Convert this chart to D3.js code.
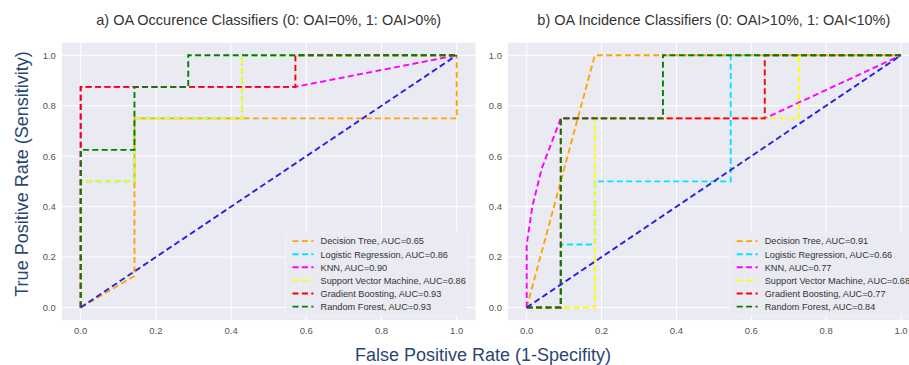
<!DOCTYPE html>
<html>
<head>
<meta charset="utf-8">
<script src="https://cdnjs.cloudflare.com/ajax/libs/d3/7.8.5/d3.min.js"></script>
<style>
  html, body { margin: 0; padding: 0; background: #fff; }
  svg { display: block; }
</style>
</head>
<body>
<svg id="chart" width="909" height="365"></svg>
<script>
const fontFamily = "'Liberation Sans', Arial, Helvetica, sans-serif";
const width = 909, height = 365;
const svg = d3.select("#chart");

// Model names, colours, AUC labels
const models = ["Decision Tree", "Logistic Regression", "KNN", "Support Vector Machine", "Gradient Boosting", "Random Forest"];
const modelColors = ["#ffa500", "#00e5ff", "#ff00ff", "#ffff00", "#ff0000", "#008000"];
const aucOccurrence = ["0.65", "0.86", "0.90", "0.86", "0.93", "0.93"];
const aucIncidence = ["0.91", "0.66", "0.77", "0.68", "0.77", "0.84"];
const ticks = [0, 0.2, 0.4, 0.6, 0.8, 1.0];
const chanceLine = [[0, 0], [1, 1]];

// a) OA occurrence ROC curves, [fpr, tpr]
const occDT  = [[0, 0], [0.143, 0.125], [0.143, 0.75], [1, 0.75], [1, 1]];
const occLR  = [[0, 0], [0, 0.5], [0.143, 0.5], [0.143, 0.75], [0.429, 0.75], [0.429, 1], [1, 1]];
const occKNN = [[0, 0], [0, 0.875], [0.571, 0.875], [1, 1]];
const occSVM = [[0, 0], [0, 0.5], [0.143, 0.5], [0.143, 0.75], [0.429, 0.75], [0.429, 1], [1, 1]];
const occGB  = [[0, 0], [0, 0.875], [0.571, 0.875], [0.571, 1], [1, 1]];
const occRF  = [[0, 0], [0, 0.625], [0.143, 0.625], [0.143, 0.875], [0.286, 0.875], [0.286, 1], [1, 1]];

// b) OA incidence ROC curves, [fpr, tpr]
const incDT  = [[0, 0], [0.182, 1], [1, 1]];
const incLR  = [[0, 0], [0.091, 0], [0.091, 0.25], [0.182, 0.25], [0.182, 0.5], [0.545, 0.5], [0.545, 1], [1, 1]];
const incKNN = [[0, 0], [0, 0.25], [0.015, 0.4], [0.04, 0.55], [0.091, 0.75], [0.636, 0.75], [1, 1]];
const incSVM = [[0, 0], [0.182, 0], [0.182, 0.75], [0.727, 0.75], [0.727, 1], [1, 1]];
const incGB  = [[0, 0], [0.091, 0], [0.091, 0.75], [0.636, 0.75], [0.636, 1], [1, 1]];
const incRF  = [[0, 0], [0.091, 0], [0.091, 0.75], [0.364, 0.75], [0.364, 1], [1, 1]];

const panels = [
  {
    title: "a) OA Occurence Classifiers (0: OAI=0%, 1: OAI>0%)",
    x0: 80.7, x1: 456.7,
    curves: [occDT, occLR, occKNN, occSVM, occGB, occRF],
    auc: aucOccurrence
  },
  {
    title: "b) OA Incidence Classifiers (0: OAI>10%, 1: OAI<10%)",
    x0: 526.7, x1: 901,
    curves: [incDT, incLR, incKNN, incSVM, incGB, incRF],
    auc: aucIncidence
  }
];

const yTop = 55.3, yBottom = 307.5;
const dash = "6,3.4";

panels.forEach((p, pi) => {
  const x = d3.scaleLinear().domain([0, 1]).range([p.x0, p.x1]);
  const y = d3.scaleLinear().domain([0, 1]).range([yBottom, yTop]);
  const g = svg.append("g");

  const bgL = x(-0.05), bgR = x(1.05), bgT = y(1.05), bgB = y(-0.05);

  // clip so the right legend gets cut at the page edge like the original
  g.append("rect")
    .attr("x", bgL).attr("y", bgT)
    .attr("width", bgR - bgL).attr("height", bgB - bgT)
    .attr("fill", "#eaeaf2");

  // grid
  g.selectAll("line.vgrid").data(ticks).enter().append("line")
    .attr("x1", d => x(d)).attr("x2", d => x(d))
    .attr("y1", bgT).attr("y2", bgB)
    .attr("stroke", "#fff").attr("stroke-width", 1);
  g.selectAll("line.hgrid").data(ticks).enter().append("line")
    .attr("y1", d => y(d)).attr("y2", d => y(d))
    .attr("x1", bgL).attr("x2", bgR)
    .attr("stroke", "#fff").attr("stroke-width", 1);

  // tick labels
  g.selectAll("text.xt").data(ticks).enter().append("text")
    .attr("x", d => x(d)).attr("y", bgB + 13.5)
    .attr("text-anchor", "middle")
    .attr("font-family", fontFamily).attr("font-size", "9.5px")
    .attr("fill", "#555")
    .text(d => d.toFixed(1));
  g.selectAll("text.yt").data(ticks).enter().append("text")
    .attr("x", bgL - 6).attr("y", d => y(d) + 3.4)
    .attr("text-anchor", "end")
    .attr("font-family", fontFamily).attr("font-size", "9.5px")
    .attr("fill", "#555")
    .text(d => d.toFixed(1));

  // title
  g.append("text")
    .attr("x", (bgL + bgR) / 2).attr("y", 25)
    .attr("text-anchor", "middle")
    .attr("font-family", fontFamily).attr("font-size", "14.5px")
    .attr("fill", "#333")
    .text(p.title);

  // ROC curves
  const line = d3.line().x(d => x(d[0])).y(d => y(d[1]));
  p.curves.forEach((c, i) => {
    g.append("path")
      .attr("d", line(c))
      .attr("fill", "none")
      .attr("stroke", modelColors[i])
      .attr("stroke-width", 1.9)
      .attr("stroke-dasharray", dash);
  });
  g.append("path")
    .attr("d", line(chanceLine))
    .attr("fill", "none")
    .attr("stroke", "#2a1fe0")
    .attr("stroke-width", 1.9)
    .attr("stroke-dasharray", dash);

  // legend
  const lx = bgR - 190, ly = bgB - 88;
  const leg = g.append("g").attr("transform", `translate(${lx},${ly})`);
  leg.append("rect")
    .attr("x", 0).attr("y", 0).attr("width", 182).attr("height", 84)
    .attr("rx", 3)
    .attr("fill", "#eaeaf2").attr("fill-opacity", 0.85)
    .attr("stroke", "#f4f4f8").attr("stroke-width", 0.8);
  models.forEach((m, i) => {
    const ry = 9 + i * 13.1;
    leg.append("line")
      .attr("x1", 7).attr("x2", 28)
      .attr("y1", ry).attr("y2", ry)
      .attr("stroke", modelColors[i])
      .attr("stroke-width", 1.9)
      .attr("stroke-dasharray", dash);
    leg.append("text")
      .attr("x", 35).attr("y", ry + 3.3)
      .attr("font-family", fontFamily).attr("font-size", "9.2px")
      .attr("fill", "#333")
      .text(`${m}, AUC=${p.auc[i]}`);
  });
});

// shared axis labels
svg.append("text")
  .attr("transform", "translate(28,174) rotate(-90)")
  .attr("text-anchor", "middle")
  .attr("font-family", fontFamily).attr("font-size", "18px")
  .attr("fill", "#2b4673")
  .text("True Positive Rate (Sensitivity)");

svg.append("text")
  .attr("x", 483).attr("y", 361)
  .attr("text-anchor", "middle")
  .attr("font-family", fontFamily).attr("font-size", "18px")
  .attr("fill", "#2b4673")
  .text("False Positive Rate (1-Specifity)");
</script>
</body>
</html>
